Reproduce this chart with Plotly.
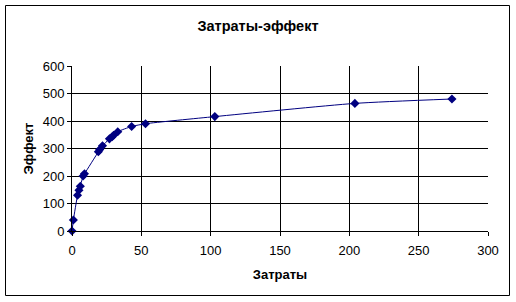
import plotly.graph_objects as go

cost = [0, 1, 4, 5, 6, 8, 9, 19, 20, 22, 27, 29, 30, 33, 43, 53, 103, 204, 274]
effect = [0, 40, 130, 148, 163, 200, 208, 288, 296, 310, 335, 343, 348, 361, 380, 390, 416, 464, 480]

title_text = "Затраты-эффект"
x_title = "Затраты"
y_title = "Эффект"

FONT = "Liberation Sans, Arial, sans-serif"
NAVY = "#000080"

fig = go.Figure()
fig.add_trace(go.Scatter(
    x=cost, y=effect, mode="lines+markers",
    line=dict(color=NAVY, width=1, shape="spline", smoothing=0.6),
    marker=dict(symbol="diamond", size=7, color=NAVY),
    showlegend=False, cliponaxis=False,
))

L, R, T, B = 72, 28, 66, 71
W, H = 516, 302
pw, ph = W - L - R, H - T - B

def px_to_paper_x(px):
    return (px - L) / pw

def px_to_paper_y(py):
    return (H - B - py) / ph

fig.update_layout(
    width=W, height=H,
    margin=dict(l=L, r=R, t=T, b=B),
    paper_bgcolor="white", plot_bgcolor="white",
    font=dict(family=FONT, size=13, color="black"),
    title=dict(text="<b>" + title_text + "</b>", x=0.5, xanchor="center",
               y=1 - 25.5 / H, yanchor="middle", font=dict(size=14.5)),
    xaxis=dict(
        range=[0, 300], tickvals=[0, 50, 100, 150, 200, 250, 300],
        showgrid=True, gridcolor="black", gridwidth=1,
        showline=True, linecolor="black", linewidth=1,
        ticks="outside", ticklen=4, tickcolor="black",
        ticklabelstandoff=3,
        zeroline=False,
        title=dict(text="<b>" + x_title + "</b>", font=dict(size=13), standoff=13),
    ),
    yaxis=dict(
        range=[0, 600], tickvals=[0, 100, 200, 300, 400, 500, 600],
        showgrid=True, gridcolor="black", gridwidth=1,
        showline=True, linecolor="black", linewidth=1,
        ticks="outside", ticklen=4, tickcolor="black",
        zeroline=False,
        title=dict(text="<b>" + y_title + "</b>", font=dict(size=13), standoff=6),
    ),
    shapes=[dict(
        type="rect", xref="paper", yref="paper",
        x0=px_to_paper_x(5.5), x1=px_to_paper_x(509.5),
        y0=px_to_paper_y(295.5), y1=px_to_paper_y(5.5),
        line=dict(color="black", width=1), layer="below",
    )],
)

fig.write_html("out.html")
